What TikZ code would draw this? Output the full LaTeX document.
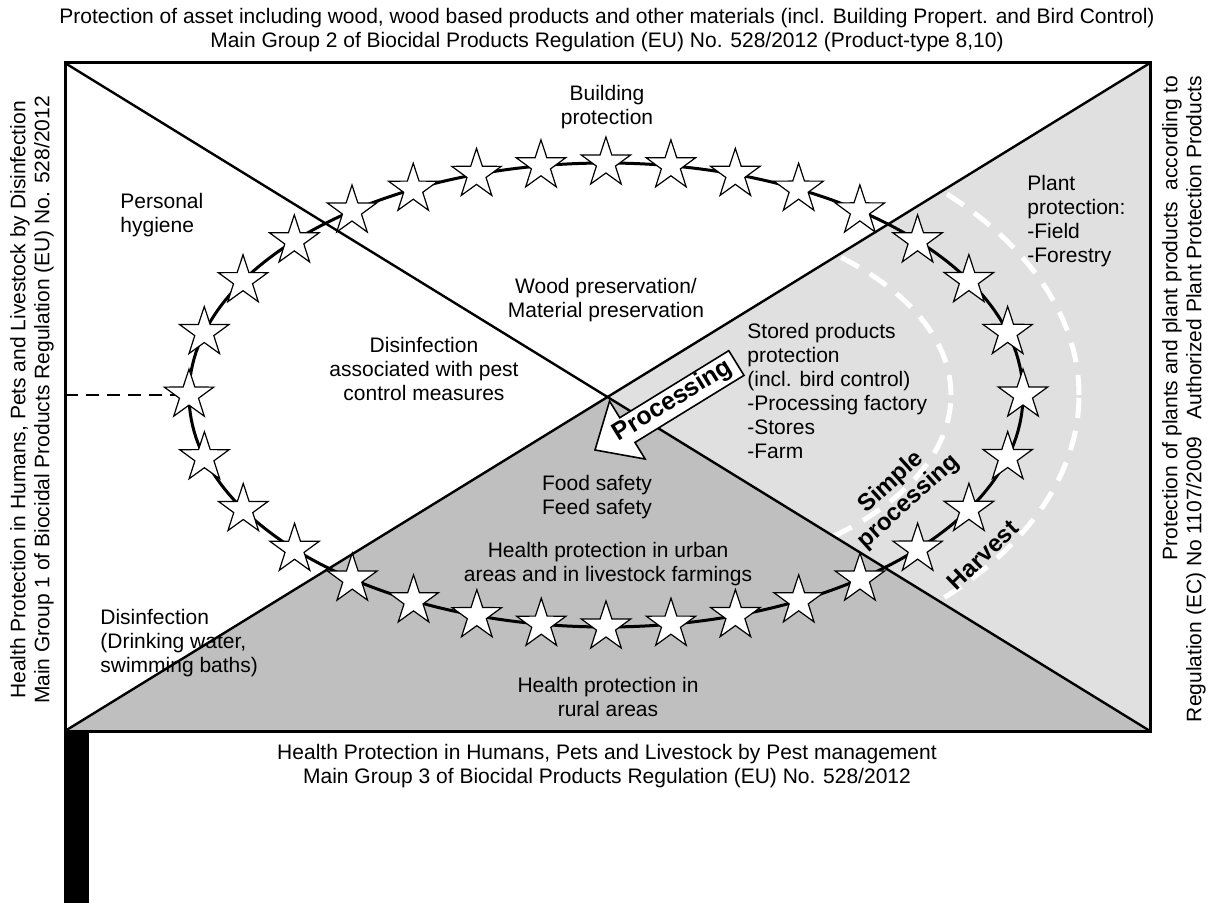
\documentclass[tikz,border=0pt]{standalone}
\usepackage{fontspec}
\setmainfont{Liberation Sans}
\usetikzlibrary{shapes.geometric,decorations.markings}

\definecolor{lightshade}{gray}{0.88}
\definecolor{darkshade}{gray}{0.75}

\tikzset{
  txt/.style={font=\fontsize{10.5}{12}\selectfont, inner sep=0pt, align=center},
  txtleft/.style={txt, align=left},
  boldlabel/.style={font=\fontsize{12}{13}\selectfont\bfseries, inner sep=0pt, align=center},
  starnode/.style={star, star points=5, star point ratio=2.6, minimum size=26pt,
    inner sep=0pt, draw=black, fill=white, line width=0.6pt},
  ring/.style={line width=1.5pt},
  whitedash/.style={white, line width=2.5pt, dash pattern=on 10pt off 6.5pt},
  procshape/.style={draw=black, fill=white, line width=0.8pt, line join=miter},
  proclabel/.style={font=\fontsize{12.5}{13}\selectfont\bfseries, inner sep=0pt}
}

\begin{document}
\begin{tikzpicture}[x=0.5pt,y=-0.5pt]
  \useasboundingbox (0,0) rectangle (1211,903);
  % corners of the frame
  \coordinate (NW) at (65,63);
  \coordinate (NE) at (1150,63);
  \coordinate (SW) at (65,731);
  \coordinate (SE) at (1150,731);
  \coordinate (M) at (607.5,397);
  \coordinate (ctr) at (606,395);
  \coordinate (frameW) at (65,395);
  \coordinate (ringW) at (189,395);

  % shaded triangles
  \fill[lightshade] (NE) -- (SE) -- (M) -- cycle;
  \fill[darkshade] (SW) -- (SE) -- (M) -- cycle;

  % simple processing / harvest arcs
  \begin{scope}
    \clip (NE) -- (SE) -- (M) -- cycle;
    \draw[whitedash] (ctr) ellipse [x radius=172.5pt, y radius=94pt];
    \draw[whitedash] (ctr) ellipse [x radius=236.5pt, y radius=145pt];
  \end{scope}

  % diagonals and frame
  \draw[line width=1.2pt] (NW) -- (SE);
  \draw[line width=1.2pt] (SW) -- (NE);
  \draw[line width=1.5pt] (NW) rectangle (SE);
  \fill[black] (64,731) rectangle (89,903);

  \draw[dash pattern=on 6.5pt off 4pt, line width=0.6pt] (frameW) -- (ringW);

  % ring of stars
  \draw[ring, postaction={decorate},
    decoration={markings, mark=between positions 0 and 0.98 step 0.03125 with {\node[starnode] {};}}]
    (ctr) ellipse [x radius=208.5pt, y radius=116pt];

  % processing arrow
  \begin{scope}[shift={(595,450)}, rotate=31.6]
    \coordinate (tip) at (0,0);
    \draw[procshape] (tip) -- (38,-34) -- (38,-14.5) -- (166,-14.5) -- (166,14.5)
      -- (38,14.5) -- (38,34) -- cycle;
  \end{scope}
  \node[proclabel, rotate=31.6] (proc) at (673,401) {Processing};

  % outer texts
  \node[txt] (hdr) at (607,30) {Protection of asset including wood, wood based products and other materials (incl. Building Propert. and Bird Control)\\Main Group 2 of Biocidal Products Regulation (EU) No. 528/2012 (Product-type 8,10)};
  \node[txt] (ftr) at (607,766) {Health Protection in Humans, Pets and Livestock by Pest management\\Main Group 3 of Biocidal Products Regulation (EU) No. 528/2012};
  \node[txt, rotate=90] (lhs) at (32,400) {Health Protection in Humans, Pets and Livestock by Disinfection\\Main Group 1 of Biocidal Products Regulation (EU) No. 528/2012};
  \node[txt, rotate=90, align=right] (rhs) at (1184,399) {Protection of plants and plant products\ \ according to\\Regulation (EC) No 1107/2009\ \ \ Authorized Plant Protection Products};

  % inner texts
  \node[txt] (bldg) at (607,107) {Building\\protection};
  \node[txtleft, anchor=west] (hyg) at (120,215) {Personal\\hygiene};
  \node[txt] (wood) at (606,300) {Wood preservation/\\Material preservation};
  \node[txt] (disinf) at (424,369) {Disinfection\\associated with pest\\control measures};
  \node[txtleft, anchor=west] (stored) at (747,391) {Stored products\\protection\\(incl. bird control)\\-Processing factory\\-Stores\\-Farm};
  \node[txtleft, anchor=west] (plant) at (1027,221) {Plant\\protection:\\-Field\\-Forestry};
  \node[txt] (food) at (597,497) {Food safety\\Feed safety};
  \node[txt] (urban) at (608,564) {Health protection in urban\\areas and in livestock farmings};
  \node[txtleft, anchor=west] (water) at (100,643) {Disinfection\\(Drinking water,\\swimming baths)};
  \node[txt] (rural) at (608,697) {Health protection in\\rural areas};
  \node[boldlabel, rotate=42] (simple) at (900,492) {Simple\\processing};
  \node[boldlabel, rotate=44] (harvest) at (983,555) {Harvest};
\end{tikzpicture}
\end{document}
